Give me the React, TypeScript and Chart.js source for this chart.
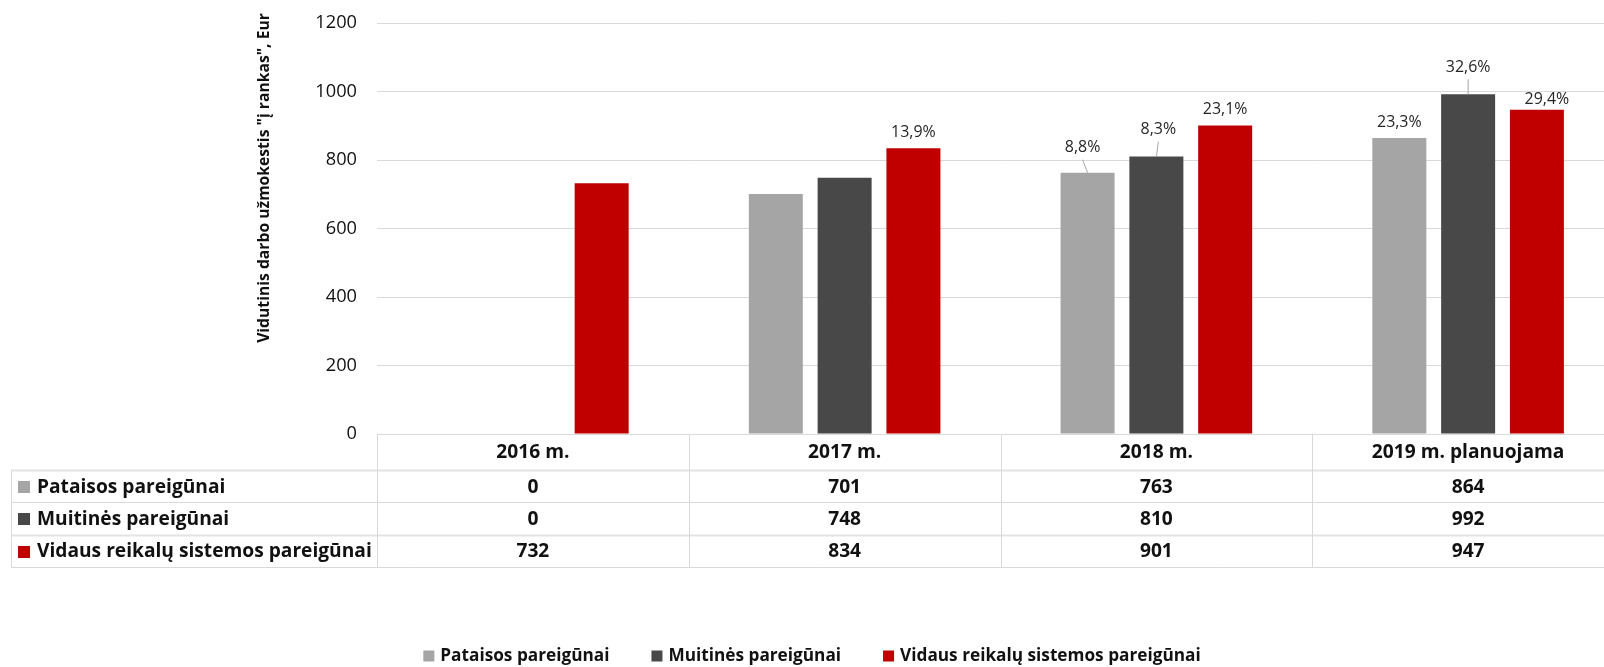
import React, { useEffect, useRef } from 'react';
import { Chart, registerables } from 'chart.js';

Chart.register(...registerables);

// ---------- DATA ----------
const categories = ['2016 m.', '2017 m.', '2018 m.', '2019 m. planuojama'];
const seriesNames = ['Pataisos pareigūnai', 'Muitinės pareigūnai', 'Vidaus reikalų sistemos pareigūnai'];
const pataisos = [0, 701, 763, 864];
const muitines = [0, 748, 810, 992];
const vidaus = [732, 834, 901, 947];
const pataisosLabels = [null, null, '8,8%', '23,3%'];
const muitinesLabels = [null, null, '8,3%', '32,6%'];
const vidausLabels = [null, '13,9%', '23,1%', '29,4%'];
const yTicks = [0, 200, 400, 600, 800, 1000, 1200];
const yTitle = 'Vidutinis darbo užmokestis "į rankas", Eur';

// ---------- STYLE ----------
const colors = ['#A5A5A5', '#484848', '#C00000'];
const FONT = '"Open Sans", "Noto Sans", sans-serif';
const TEXT = '#111111';
const LINE = '#d9d9d9';
// manual label nudges (Excel-moved labels), keyed "series-category"
const labelNudges: Record<string, { dx: number; dy: number; leader: boolean }> = {
  '0-2': { dx: -5, dy: -25, leader: true },
  '1-2': { dx: 2, dy: -27, leader: true },
  '1-3': { dx: 0, dy: -27, leader: true },
  '2-3': { dx: 10, dy: -10, leader: false },
};
const DEFAULT_DY = -16;

const seriesValues = [pataisos, muitines, vidaus];
const seriesLabels = [pataisosLabels, muitinesLabels, vidausLabels];

// font size so that `text` spans `target` px
function fitSize(ctx: CanvasRenderingContext2D, text: string, weight: string, target: number) {
  ctx.save();
  ctx.font = `${weight} 100px ${FONT}`;
  const w = ctx.measureText(text).width;
  ctx.restore();
  return (100 * target) / w;
}

const overlayPlugin = {
  id: 'overlay',
  afterDatasetsDraw(chart: any) {
    const ctx = chart.ctx as CanvasRenderingContext2D;
    const size = fitSize(ctx, '23,1%', 'normal', 44.7);
    ctx.save();
    ctx.font = `${size}px ${FONT}`;
    ctx.textAlign = 'center';
    ctx.textBaseline = 'middle';
    seriesLabels.forEach((labels, si) => {
      const meta = chart.getDatasetMeta(si);
      labels.forEach((lab, ci) => {
        if (!lab) return;
        const bar = meta.data[ci];
        const nudge = labelNudges[`${si}-${ci}`];
        const dx = nudge ? nudge.dx : 0;
        const dy = nudge ? nudge.dy : DEFAULT_DY;
        const lx = bar.x + dx;
        const ly = bar.y + dy;
        if (nudge && nudge.leader) {
          ctx.strokeStyle = '#a6a6a6';
          ctx.lineWidth = 1;
          ctx.beginPath();
          ctx.moveTo(lx, ly + 12);
          ctx.lineTo(bar.x, bar.y);
          ctx.stroke();
        }
        ctx.fillStyle = '#262626';
        ctx.fillText(lab, lx, ly);
      });
    });
    ctx.restore();
  },
  afterDraw(chart: any) {
    const ctx = chart.ctx as CanvasRenderingContext2D;
    const area = chart.chartArea;
    const xScale = chart.scales.x;
    const n = categories.length;
    const colW = (area.right - area.left) / n;
    const tableTop = area.bottom;
    const headerBottom = tableTop + 36;
    const rowH = 32.3;
    const tableLeft = 11;
    const rowBounds = [headerBottom, headerBottom + rowH, headerBottom + 2 * rowH, headerBottom + 3 * rowH];

    ctx.save();
    const hline = (y: number, x0: number, x1: number, w = 1, c = LINE) => {
      ctx.strokeStyle = c;
      ctx.lineWidth = w;
      ctx.beginPath();
      ctx.moveTo(x0, Math.round(y) + 0.5);
      ctx.lineTo(x1, Math.round(y) + 0.5);
      ctx.stroke();
    };
    const vline = (x: number, y0: number, y1: number) => {
      ctx.strokeStyle = LINE;
      ctx.lineWidth = 1;
      ctx.beginPath();
      ctx.moveTo(Math.round(x) + 0.5, y0);
      ctx.lineTo(Math.round(x) + 0.5, y1);
      ctx.stroke();
    };
    hline(tableTop, area.left, area.right);
    hline(rowBounds[0], tableLeft, area.right, 2, '#e3e3e3');
    hline(rowBounds[1], tableLeft, area.right);
    hline(rowBounds[2], tableLeft, area.right, 2, '#e3e3e3');
    hline(rowBounds[3], tableLeft, area.right);
    vline(tableLeft, rowBounds[0], rowBounds[3]);
    for (let i = 0; i <= n; i++) {
      vline(area.left + i * colW, tableTop, rowBounds[3]);
    }
    const tSize = fitSize(ctx, seriesNames[2], 'bold', 335);
    ctx.fillStyle = TEXT;
    ctx.font = `bold ${tSize}px ${FONT}`;
    ctx.textAlign = 'center';
    ctx.textBaseline = 'middle';
    categories.forEach((c, i) => {
      ctx.fillText(c, xScale.getPixelForValue(i), (tableTop + headerBottom) / 2 + 1);
    });
    seriesNames.forEach((name, si) => {
      const yc = (rowBounds[si] + rowBounds[si + 1]) / 2 + 1;
      ctx.fillStyle = colors[si];
      ctx.fillRect(18, Math.round(yc - 6), 12, 12);
      ctx.fillStyle = TEXT;
      ctx.textAlign = 'left';
      ctx.fillText(name, 37, yc);
      ctx.textAlign = 'center';
      seriesValues[si].forEach((v, ci) => {
        ctx.fillText(String(v), xScale.getPixelForValue(ci), yc);
      });
    });

    // ----- legend -----
    const lSize = fitSize(ctx, seriesNames[2], 'bold', 301);
    ctx.font = `bold ${lSize}px ${FONT}`;
    ctx.textAlign = 'left';
    const sw = 11, sgap = 6, igap = 42;
    const widths = seriesNames.map((s) => ctx.measureText(s).width);
    const total = widths.reduce((a, w) => a + sw + sgap + w, 0) + igap * (seriesNames.length - 1);
    let x = 812 - total / 2;
    const ly = 656;
    seriesNames.forEach((s, i) => {
      ctx.fillStyle = colors[i];
      ctx.fillRect(x, ly - 5.5, sw, sw);
      ctx.fillStyle = TEXT;
      ctx.fillText(s, x + sw + sgap, ly);
      x += sw + sgap + widths[i] + igap;
    });

    // ----- y-axis title -----
    const ySize = fitSize(ctx, yTitle, 'bold', 330);
    ctx.translate(265, 178);
    ctx.rotate(-Math.PI / 2);
    ctx.font = `bold ${ySize}px ${FONT}`;
    ctx.textAlign = 'center';
    ctx.fillStyle = TEXT;
    ctx.fillText(yTitle, 0, 0);
    ctx.restore();
  },
};

export default function App() {
  const ref = useRef<HTMLCanvasElement | null>(null);
  useEffect(() => {
    if (!ref.current) return;
    const mctx = document.createElement('canvas').getContext('2d') as CanvasRenderingContext2D;
    const tickSize = fitSize(mctx, '1200', 'normal', 41.7);
    const chart = new Chart(ref.current, {
      type: 'bar',
      data: {
        labels: categories,
        datasets: seriesNames.map((name, i) => ({
          label: name,
          data: seriesValues[i],
          backgroundColor: colors[i],
          borderWidth: 0,
          barPercentage: 0.785,
          categoryPercentage: 0.662,
        })),
      },
      options: {
        responsive: false,
        animation: false,
        devicePixelRatio: 1,
        layout: { padding: { left: 277, right: 0, top: 23, bottom: 233 } },
        plugins: { legend: { display: false }, tooltip: { enabled: false } },
        scales: {
          x: { display: false },
          y: {
            min: 0,
            max: 1200,
            afterBuildTicks: (s: any) => {
              s.ticks = yTicks.map((v) => ({ value: v }));
            },
            afterFit: (s: any) => {
              s.width = 100;
            },
            border: { display: false },
            grid: {
              color: LINE,
              lineWidth: 1,
              drawTicks: true,
              tickLength: 20,
              tickColor: 'rgba(0,0,0,0)',
            },
            ticks: {
              padding: 0,
              color: TEXT,
              font: { family: FONT, size: tickSize },
              callback: (v: any) => String(v),
            },
          },
        },
      },
      plugins: [overlayPlugin],
    });
    return () => chart.destroy();
  }, []);
  return (
    <div style={{ position: 'fixed', left: 0, top: 0, width: 1604, height: 667, overflow: 'hidden', background: '#fff' }}>
      <canvas ref={ref} width={1624} height={667} style={{ display: 'block', width: 1624, height: 667 }} />
    </div>
  );
}
